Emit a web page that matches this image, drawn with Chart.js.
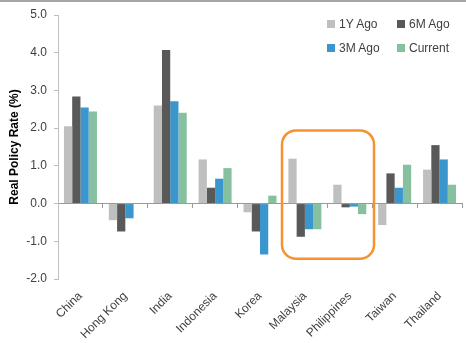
<!DOCTYPE html>
<html>
<head>
<meta charset="utf-8">
<script src="https://cdn.jsdelivr.net/npm/chart.js@4/dist/chart.umd.min.js"></script>
<style>
  html, body { margin: 0; padding: 0; background: #fff; }
  #wrap { position: relative; width: 466px; height: 343px; overflow: hidden; }
  #topline { position: absolute; left: 0; top: 0; width: 466px; height: 2px; background: #a5a5a5; z-index: 2; }
  canvas { position: absolute; left: 0; top: 0; }
  #legend { position: absolute; left: 327px; top: 17px; width: 140px; font: 12px "Liberation Sans", Arial, sans-serif; color: #404040; }
  .item { position: absolute; display: flex; align-items: center; white-space: nowrap; }
  .sw { width: 8px; height: 8px; margin-right: 4px; }
</style>
</head>
<body>
<div id="wrap">
  <div id="topline"></div>
  <canvas id="c" width="466" height="343"></canvas>
  <div id="legend"></div>
</div>
<script>
// Economies on the category axis
const economies = ['China', 'Hong Kong', 'India', 'Indonesia', 'Korea', 'Malaysia', 'Philippines', 'Taiwan', 'Thailand'];

// Real policy rate (%) at each point in time
const oneYearAgo   = [2.05, -0.44, 2.60, 1.17, -0.23, 1.19, 0.50, -0.57, 0.90];
const sixMonthsAgo = [2.84, -0.74, 4.07, 0.42, -0.74, -0.88, -0.10, 0.80, 1.55];
const threeMonthsAgo = [2.55, -0.39, 2.71, 0.66, -1.35, -0.68, -0.08, 0.42, 1.17];
const current      = [2.44, 0, 2.41, 0.94, 0.21, -0.68, -0.28, 1.03, 0.50];

const seriesNames = ['1Y Ago', '6M Ago', '3M Ago', 'Current'];
const seriesColors = ['#bfbfbf', '#595959', '#3b96cd', '#86c09e'];

// Value-axis ticks
const yTicks = [-2, -1, 0, 1, 2, 3, 4, 5];

// Callout around Malaysia and the Philippines (category index / rate units)
const highlight = { xFrom: 4.49, xTo: 6.54, yFrom: 1.94, yTo: -1.46 };

const seriesValues = [oneYearAgo, sixMonthsAgo, threeMonthsAgo, current];
const datasets = seriesNames.map((name, i) => ({
  label: name,
  data: seriesValues[i],
  backgroundColor: seriesColors[i],
  borderWidth: 0,
  categoryPercentage: 0.735,
  barPercentage: 1.0,
  xAxisID: 'x',
  yAxisID: 'y'
}));

const calloutPlugin = {
  id: 'callout',
  afterDatasetsDraw(chart) {
    const { ctx, scales } = chart;
    const x1 = scales.x.getPixelForValue(highlight.xFrom);
    const x2 = scales.x.getPixelForValue(highlight.xTo);
    const y1 = scales.y.getPixelForValue(highlight.yFrom);
    const y2 = scales.y.getPixelForValue(highlight.yTo);
    ctx.save();
    ctx.strokeStyle = '#f7922e';
    ctx.lineWidth = 2.5;
    ctx.beginPath();
    ctx.roundRect(x1, y1, x2 - x1, y2 - y1, 14);
    ctx.stroke();
    ctx.restore();
  }
};

const font = { family: '"Liberation Sans", Arial, sans-serif', size: 12 };

new Chart(document.getElementById('c'), {
  type: 'bar',
  data: { labels: economies, datasets },
  plugins: [calloutPlugin],
  options: {
    responsive: false,
    animation: false,
    devicePixelRatio: 1,
    layout: { padding: { top: 15, right: 4, left: 0, bottom: 0 } },
    plugins: { legend: { display: false }, tooltip: { enabled: false } },
    scales: {
      x: {
        type: 'category',
        position: 'bottom',
        offset: true,
        grid: { display: false, drawTicks: false },
        border: { display: false },
        ticks: {
          font,
          color: '#404040',
          maxRotation: 45,
          minRotation: 45,
          autoSkip: false,
          padding: 10
        },
        afterFit(s) { s.height = 64; }
      },
      x0: {
        type: 'category',
        position: { y: 0 },
        offset: true,
        grid: { offset: true, drawOnChartArea: false, tickLength: 4, color: '#999999' },
        border: { display: true, color: '#999999', width: 1 },
        ticks: { display: false },
        afterFit(s) { s.height = 0; }
      },
      y: {
        min: -2,
        max: 5,
        afterBuildTicks(s) { s.ticks = yTicks.map(v => ({ value: v })); },
        grid: { drawOnChartArea: false, tickLength: 4, color: '#bfbfbf' },
        border: { display: true, color: '#bfbfbf', width: 1 },
        ticks: {
          font,
          color: '#404040',
          padding: 7,
          callback: v => Number(v).toFixed(1)
        },
        title: {
          display: true,
          text: 'Real Policy Rate (%)',
          font: { ...font, weight: 'bold' },
          color: '#000',
          padding: { top: 7, bottom: 0 }
        },
        afterFit(s) { s.width = 58; }
      }
    }
  }
});

// Legend laid out in two rows of two
const legend = document.getElementById('legend');
const slots = [[0, 0], [70, 0], [0, 24], [70, 24]];
seriesNames.forEach((name, i) => {
  const item = document.createElement('div');
  item.className = 'item';
  item.style.left = slots[i][0] + 'px';
  item.style.top = slots[i][1] + 'px';
  const sw = document.createElement('span');
  sw.className = 'sw';
  sw.style.background = seriesColors[i];
  const txt = document.createElement('span');
  txt.textContent = name;
  item.appendChild(sw);
  item.appendChild(txt);
  legend.appendChild(item);
});
</script>
</body>
</html>
